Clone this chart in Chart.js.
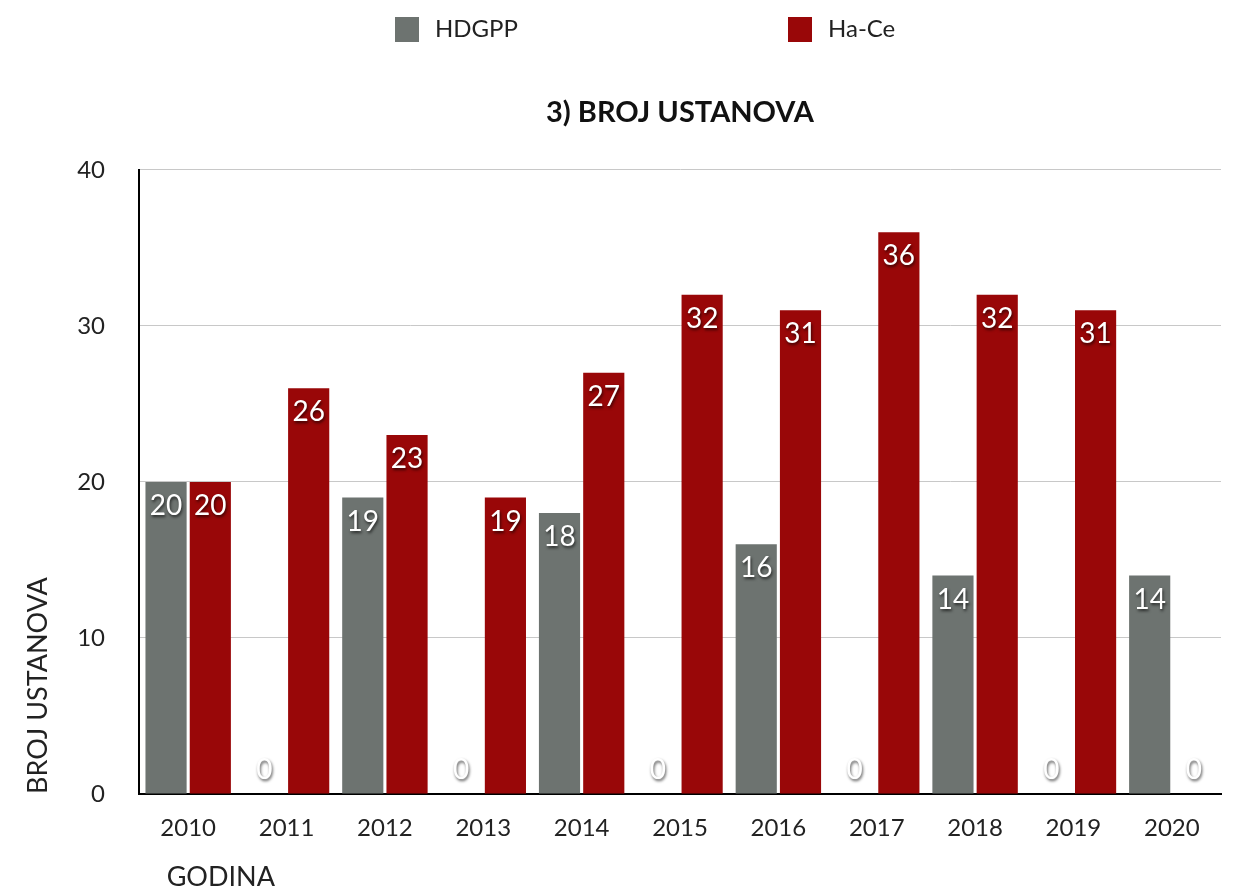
<!DOCTYPE html>
<html>
<head>
<meta charset="utf-8">
<script src="https://cdn.jsdelivr.net/npm/chart.js@4"></script>
<style>
  html, body { margin: 0; padding: 0; background: #fff; }
  #wrap { width: 1236px; height: 893px; }
</style>
</head>
<body>
<div id="wrap"><canvas id="chart" width="1236" height="893"></canvas></div>
<script>
const years = ['2010', '2011', '2012', '2013', '2014', '2015', '2016', '2017', '2018', '2019', '2020'];
const hdgpp = [20, 0, 19, 0, 18, 0, 16, 0, 14, 0, 14];
const haCe = [20, 26, 23, 19, 27, 32, 31, 36, 32, 31, 0];
const yTicks = [0, 10, 20, 30, 40];

const FONT = 'Lato, "Noto Sans", sans-serif';

// legend drawn by hand because the items sit far apart
const spacedLegend = {
  id: 'spacedLegend',
  afterDraw(chart) {
    const ctx = chart.ctx;
    const spots = [395, 788];
    ctx.save();
    ctx.font = '24px ' + FONT;
    ctx.textBaseline = 'middle';
    chart.data.datasets.forEach((ds, i) => {
      const x = spots[i];
      ctx.fillStyle = ds.backgroundColor;
      ctx.fillRect(x, 17, 24, 25);
      ctx.fillStyle = '#222';
      ctx.fillText(ds.label, x + 40, 29);
    });
    ctx.restore();
  }
};

// white value labels with a soft shadow
const valueLabels = {
  id: 'valueLabels',
  afterDatasetsDraw(chart) {
    const ctx = chart.ctx;
    chart.data.datasets.forEach((ds, i) => {
      const meta = chart.getDatasetMeta(i);
      meta.data.forEach((bar, j) => {
        const v = ds.data[j];
        const y = v === 0 ? bar.base - 24 : bar.y + 24;
        ctx.save();
        ctx.font = '28px ' + FONT;
        ctx.textAlign = 'center';
        ctx.textBaseline = 'middle';
        ctx.shadowColor = 'rgba(0,0,0,0.65)';
        ctx.shadowBlur = 3;
        ctx.shadowOffsetX = 1;
        ctx.shadowOffsetY = 2;
        ctx.fillStyle = '#fff';
        ctx.fillText(String(v), bar.x, y);
        ctx.restore();
      });
    });
  }
};

new Chart(document.getElementById('chart').getContext('2d'), {
  type: 'bar',
  data: {
    labels: years,
    datasets: [
      { label: 'HDGPP', data: hdgpp, backgroundColor: '#6d7370' },
      { label: 'Ha-Ce', data: haCe, backgroundColor: '#990708' }
    ]
  },
  options: {
    responsive: false,
    animation: false,
    categoryPercentage: 0.9,
    barPercentage: 0.93,
    layout: { padding: { left: 10, right: 15, top: 0, bottom: 0 } },
    plugins: {
      legend: { display: false },
      tooltip: { enabled: false },
      title: {
        display: true,
        text: '3) BROJ USTANOVA',
        fullSize: false,
        color: '#111',
        font: { family: FONT, size: 29, weight: 'bold' },
        padding: { top: 95, bottom: 40 }
      }
    },
    scales: {
      x: {
        grid: { display: false, drawTicks: false },
        border: { color: '#000', width: 2 },
        ticks: { color: '#222', font: { family: FONT, size: 24 }, padding: 20 },
        title: {
          display: true, text: '    GODINA', align: 'start', color: '#222',
          font: { family: FONT, size: 27 }, padding: { top: 0, bottom: 0 }
        },
        afterFit(scale) { scale.height = 99; }
      },
      y: {
        min: 0,
        max: 40,
        afterBuildTicks(scale) { scale.ticks = yTicks.map(v => ({ value: v })); },
        grid: { color: '#c8c8c8', drawTicks: false },
        border: { color: '#000', width: 2 },
        ticks: { color: '#222', font: { family: FONT, size: 24 }, padding: 34 },
        title: {
          display: true, text: 'BROJ USTANOVA', align: 'start', color: '#222',
          font: { family: FONT, size: 27 }, padding: { top: 12, bottom: 0 }
        },
        afterFit(scale) { scale.width = 129; }
      }
    }
  },
  plugins: [spacedLegend, valueLabels]
});
</script>
</body>
</html>
